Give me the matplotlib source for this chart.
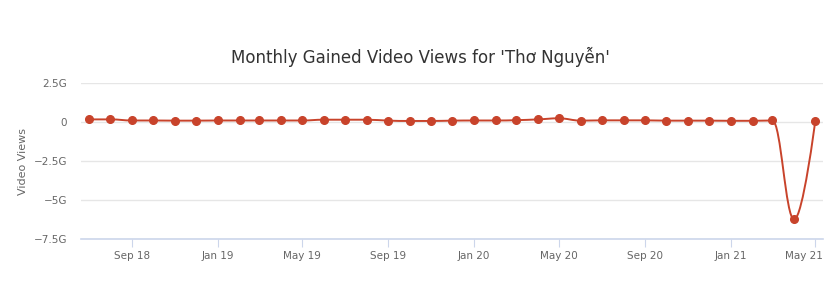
import numpy as np
import matplotlib
matplotlib.use("Agg")
from matplotlib import pyplot as plt
from matplotlib.path import Path
from matplotlib.patches import PathPatch
import matplotlib.dates as mdates
import matplotlib.transforms as mtransforms
from matplotlib.ticker import FuncFormatter
import datetime as dt

# monthly gained views (in billions), Jul 2018 -> May 2021
months = [dt.date(2018 + (6 + i) // 12, (6 + i) % 12 + 1, 1) for i in range(35)]
views_g = [0.17, 0.17, 0.10, 0.10, 0.09, 0.09, 0.10, 0.10, 0.10, 0.10,
           0.10, 0.15, 0.15, 0.15, 0.09, 0.07, 0.07, 0.09, 0.10, 0.10,
           0.12, 0.17, 0.24, 0.09, 0.11, 0.11, 0.11, 0.09, 0.09, 0.09,
           0.08, 0.08, 0.10, -6.25, 0.05]
yticks = [2.5, 0, -2.5, -5, -7.5]
xticks = [dt.date(2018, 9, 1), dt.date(2019, 1, 1), dt.date(2019, 5, 1),
          dt.date(2019, 9, 1), dt.date(2020, 1, 1), dt.date(2020, 5, 1),
          dt.date(2020, 9, 1), dt.date(2021, 1, 1), dt.date(2021, 5, 1)]

red = '#c8432b'
grey = '#666666'

#-----------------------------------------------------
# spline path in the style of a highcharts "spline" series
#-----------------------------------------------------
def spline_path(xs, ys, smoothing=1.5):
    denom = smoothing + 1
    n = len(xs)
    lc = [(xs[i], ys[i]) for i in range(n)]
    rc = [(xs[i], ys[i]) for i in range(n)]
    for i in range(1, n - 1):
        lx, ly = xs[i - 1], ys[i - 1]
        px, py = xs[i], ys[i]
        nx, ny = xs[i + 1], ys[i + 1]
        lcx = (smoothing * px + lx) / denom
        lcy = (smoothing * py + ly) / denom
        rcx = (smoothing * px + nx) / denom
        rcy = (smoothing * py + ny) / denom
        if rcx != lcx:
            corr = (rcy - lcy) * (rcx - px) / (rcx - lcx) + py - rcy
            lcy += corr
            rcy += corr
            if lcy > ly and lcy > py:
                lcy = max(ly, py); rcy = 2 * py - lcy
            elif lcy < ly and lcy < py:
                lcy = min(ly, py); rcy = 2 * py - lcy
            if rcy > ny and rcy > py:
                rcy = max(ny, py); lcy = 2 * py - rcy
            elif rcy < ny and rcy < py:
                rcy = min(ny, py); lcy = 2 * py - rcy
        lc[i] = (lcx, lcy)
        rc[i] = (rcx, rcy)
    verts = [(xs[0], ys[0])]
    codes = [Path.MOVETO]
    for i in range(1, n):
        verts += [rc[i - 1], lc[i], (xs[i], ys[i])]
        codes += [Path.CURVE4] * 3
    return Path(verts, codes)

xnum = mdates.date2num(months)

fig = plt.figure(figsize=(8.29, 2.84), dpi=100)
ax = fig.add_axes([0.0977, 0.1585, 0.895, 0.549])

ax.add_patch(PathPatch(spline_path(list(xnum), views_g), facecolor='none',
                       edgecolor=red, lw=1.4, zorder=3))
ax.plot(xnum, views_g, 'o', color=red, ms=5.5, zorder=4)

ax.set_ylim(-7.5, 2.5)
ax.set_xlim(mdates.date2num(dt.date(2018, 6, 20)), mdates.date2num(dt.date(2021, 5, 12)))
ax.set_yticks(yticks)
ax.yaxis.set_major_formatter(FuncFormatter(
    lambda v, p: '0' if v == 0 else ('%g' % v).replace('-', '\u2212') + 'G'))
ax.set_xticks(mdates.date2num(xticks))
ax.xaxis.set_major_formatter(mdates.DateFormatter('%b %y'))

ax.grid(axis='y', color='#e6e6e6', lw=1)
ax.set_axisbelow(True)
for s in ['top', 'right', 'left']:
    ax.spines[s].set_visible(False)
ax.spines['bottom'].set_color('#ccd6eb')
ax.spines['bottom'].set_linewidth(1.2)
ax.tick_params(axis='y', length=0, labelsize=7.5, labelcolor=grey, pad=10)
ax.tick_params(axis='x', length=6, color='#ccd6eb', labelsize=7.5, labelcolor=grey, pad=3)

# keep the last date label inside the chart, like the original
fig.canvas.draw()
last = ax.get_xticklabels()[-1]
last.set_horizontalalignment('right')
last.set_transform(last.get_transform() +
                   mtransforms.ScaledTranslation(0.08, 0, fig.dpi_scale_trans))

ax.set_ylabel('Video Views', fontsize=8, color=grey, labelpad=4)
fig.text(0.507, 0.80, "Monthly Gained Video Views for 'Thơ Nguyễn'",
         ha='center', va='center', fontsize=12, color='#333333')

fig.savefig('out.png', dpi=100)
